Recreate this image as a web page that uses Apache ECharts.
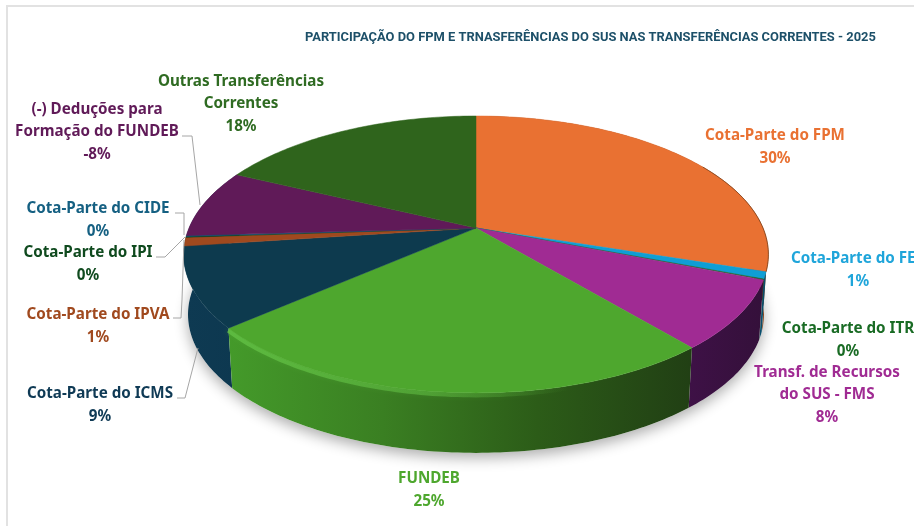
<!DOCTYPE html>
<html><head><meta charset="utf-8">
<style>html,body{margin:0;padding:0;background:#fff;overflow:hidden}#c{width:914px;height:526px}</style>
<script src="https://cdn.jsdelivr.net/npm/echarts@6/dist/echarts.min.js"></script>
</head><body><div id="c"></div>
<script>
const titleText = 'PARTICIPAÇÃO DO FPM E TRNASFERÊNCIAS DO SUS NAS TRANSFERÊNCIAS CORRENTES - 2025';
const categories = ['Cota-Parte do FPM','Cota-Parte do FEP','Cota-Parte do ITR','Transf. de Recursos\ndo SUS - FMS','FUNDEB','Cota-Parte do ICMS','Cota-Parte do IPVA','Cota-Parte do IPI','Cota-Parte do CIDE','(-) Deduções para\nFormação do FUNDEB','Outras Transferências\nCorrentes'];
const values = [30, 0.8, 0.1, 8, 24.7, 9.3, 1, 0.1, 0.1, -8, 17.9];

const topColors = ['#E97132','#0F9ED5','#196B24','#A02B93','#4EA72E','#0D3A4E','#A0491E','#0F4016','#0E5A78','#601A58','#2F641C'];
const labelColors = ['#E97132','#1FA5DA','#196B24','#A02B93','#4EA72E','#0F3A55','#A0491E','#0F4A1E','#156082','#601A58','#2F6B22'];
const wallStops = [['#8A4A22','#8A4A22'],['#0A4E6C','#0A4E6C'],['#10401A','#10401A'],['#3E1146','#34103A'],['#449A2A','#3A7F22','#2C5C18','#213F14'],['#0E3A52','#0D3850']];

const labelCentres = [[775,147],[858,270],[848,340],[827,395],[429,490],[100,405],[98,326],[88,264],[98,220],[97,132],[241,104]];
const leaderPaths = [
 [[182,136],[192,136],[200,205]],
 [[175,213],[184,213],[184,235]],
 [[156,257],[165,257],[185,237]],
 [[173,318],[181,318],[182,300],[184,240]],
 [[177,398],[185,398],[198,348]]
];
const frameLines = [[[7,526],[7,6],[914,6]]];

const apex = [476, 228], A = 287, B = 133.4, K = 0.191, DEPTH = 60, SHRINK = 0.985;
const total = values.reduce((s, v) => s + Math.abs(v), 0);
const starts = []; let acc = 0;
values.forEach(v => { starts.push(acc / total * 360); acc += Math.abs(v); });
const ends = starts.map((s, i) => s + Math.abs(values[i]) / total * 360);
const wallOrder = [0, 1, 2, 3, 5, 4];

function topPt(deg) {
  const t = deg * Math.PI / 180, u = Math.sin(t), v = -Math.cos(t), w = 1 - K * v;
  return [apex[0] + A * u / w, apex[1] + B * v / w];
}
function lowPt(deg) {
  const p = topPt(deg);
  return [apex[0] + (p[0] - apex[0]) * SHRINK, p[1] + DEPTH];
}
function arc(fn, a, b) {
  const pts = [], n = Math.max(2, Math.ceil(Math.abs(b - a)));
  for (let i = 0; i <= n; i++) pts.push(fn(a + (b - a) * i / n));
  return pts;
}
function gradient(stops) {
  return {type:'linear',x:0,y:0,x2:1,y2:0,colorStops:stops.map((c,i)=>({offset:stops.length>1?i/(stops.length-1):0,color:c}))};
}
const ids = categories.map((c, i) => [i]);
const base = {type:'custom',coordinateSystem:'none',silent:true,animation:false,clip:false};

const option = {
  backgroundColor:'#fff',
  animation:false,
  title:{text:titleText,left:305,top:31,padding:0,textStyle:{fontFamily:'Roboto',fontWeight:'bold',fontSize:12.9,color:'#1D5069'}},
  series:[
    Object.assign({},base,{z:0,data:[[0]],renderItem(){
      return {type:'polyline',shape:{points:frameLines[0]},style:{fill:'none',stroke:'#E2E2E2',lineWidth:2}};
    }}),
    Object.assign({},base,{z:1,data:[[0]],renderItem(){
      return {type:'polygon',shape:{points:arc(lowPt,0,360)},style:{fill:'#fff',shadowBlur:14,shadowColor:'rgba(0,0,0,0.32)',shadowOffsetY:5}};
    }}),
    Object.assign({},base,{z:2,data:wallOrder.map(i=>[i]),renderItem(p,api){
      const i=api.value(0), e=i===5?ends[9]:ends[i], pts=arc(topPt,starts[i],e).concat(arc(lowPt,e,starts[i]));
      return {type:'polygon',shape:{points:pts},style:{fill:gradient(wallStops[i])}};
    }}),
    Object.assign({},base,{z:3,data:[[0]],renderItem(){
      return {type:'polyline',shape:{points:arc(topPt,165,ends[4]).map(q=>[q[0],q[1]+2])},style:{fill:'none',lineWidth:5,shadowBlur:5,shadowColor:'rgba(90,180,60,0.35)',stroke:{type:'linear',x:0,y:0,x2:1,y2:0,colorStops:[{offset:0,color:'rgba(100,195,70,0.75)'},{offset:0.6,color:'rgba(100,195,70,0.5)'},{offset:1,color:'rgba(100,195,70,0)'}]}}};
    }}),
    Object.assign({},base,{z:4,data:ids,renderItem(p){
      const i=p.dataIndex, pts=[apex].concat(arc(topPt,starts[i],ends[i]));
      return {type:'polygon',shape:{points:pts},style:{fill:topColors[i],stroke:topColors[i],lineWidth:0.5}};
    }}),
    Object.assign({},base,{z:5,data:[[0]],renderItem(){
      return {type:'polyline',shape:{points:arc(topPt,60,ends[0])},style:{fill:'none',stroke:'rgba(110,60,25,0.7)',lineWidth:1}};
    }}),
    Object.assign({},base,{z:6,data:leaderPaths.map((l,i)=>[i]),renderItem(p){
      return {type:'polyline',shape:{points:leaderPaths[p.dataIndex]},style:{fill:'none',stroke:'#A6A6A6',lineWidth:1}};
    }}),
    Object.assign({},base,{z:7,data:ids,renderItem(p){
      const i=p.dataIndex;
      return {type:'text',style:{text:categories[i]+'\n'+Math.round(values[i])+'%',x:labelCentres[i][0],y:labelCentres[i][1],fill:labelColors[i],align:'center',verticalAlign:'middle',lineHeight:22.7,font:'bold 15.2px "Noto Sans"'}};
    }})
  ]
};
echarts.init(document.getElementById('c'),null,{renderer:'canvas'}).setOption(option);
</script></body></html>
